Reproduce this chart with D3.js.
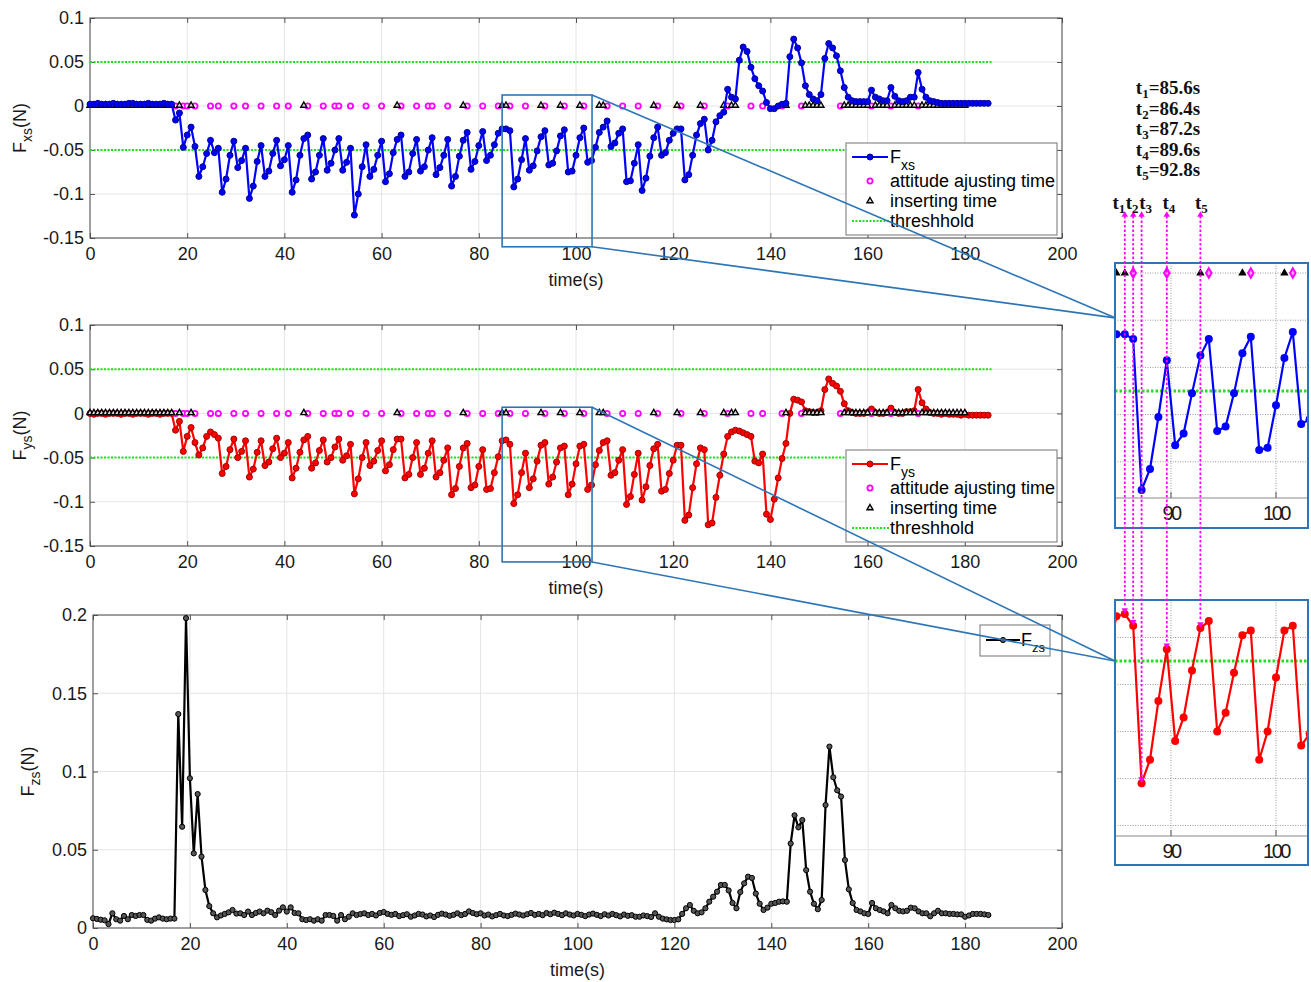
<!DOCTYPE html>
<html>
<head>
<meta charset="utf-8">
<script src="https://cdnjs.cloudflare.com/ajax/libs/d3/7.8.5/d3.min.js"></script>
<style>
  body { margin: 0; background: #fff; }
</style>
</head>
<body>
<svg id="fig" width="1311" height="982"></svg>
<script>
// all three channels are sampled every 0.8 s starting at t = 0
var t0 = 0, dt = 0.8;

// F_xs, in units of 1e-3 N
var fxs = [
  2,2,3,2,2,2,3,2,2,2,3,3,2,2,2,3,2,2,2,3,2,
  2,
  -16,-8,-47,-33,-24,-46,-80,-69,-54,-39,
  -53,-48,-98,-83,-56,-40,-70,-62,-48,-105,
  -91,-63,-45,-80,-74,-54,-39,-68,-61,-45,
  -98,-84,-56,-37,-33,-83,-75,-56,-37,-73,
  -65,-50,-37,-73,-64,-48,-124,-100,-69,-44,
  -80,-72,-56,-40,-86,-77,-53,-38,-33,-80,
  -75,-54,-38,-74,-69,-50,-36,-78,-70,-56,
  -38,-91,-80,-57,-39,-30,-72,-63,-45,-29,
  -62,-56,-44,-31,-26,-26,-28,-92,-83,-61,
  -37,-73,-68,-51,-35,-28,-67,-65,-51,-34,
  -27,-75,-74,-56,-36,-25,-64,-62,-47,-30,
  -24,-17,-46,-42,-31,-26,-86,-85,-65,-44,
  -96,-82,-57,-36,-24,-56,-53,-39,-31,-26,
  -26,-84,-78,-56,-33,-20,-15,-50,-39,-18,
  -11,-7,19,10,8,52,67,62,44,31,
  23,17,4,-3,-3,0,2,3,56,76,
  66,49,23,13,8,6,13,54,71,66,
  57,40,21,10,6,5,5,5,5,18,
  10,8,6,6,21,11,6,5,6,10,
  10,38,19,10,6,5,4,3,3,3,
  3,3,3,3,3,3,3,3,3,3
];

// F_ys, in units of 1e-3 N
var fys = [
  0,-1,0,0,-1,0,0,0,-1,0,0,-1,0,0,0,-1,0,0,-1,0,0,
  0,
  -19,-9,-43,-26,-16,-33,-47,-39,-26,-21,
  -24,-28,-68,-60,-41,-29,-50,-43,-31,-72,
  -63,-44,-31,-59,-55,-40,-28,-50,-45,-33,
  -73,-62,-44,-30,-26,-62,-56,-42,-30,-55,
  -50,-38,-29,-53,-48,-35,-91,-74,-50,-33,
  -59,-54,-42,-31,-65,-58,-41,-29,-29,-73,
  -69,-50,-33,-69,-62,-45,-31,-72,-67,-53,
  -39,-92,-85,-60,-39,-34,-84,-81,-60,-41,
  -86,-85,-67,-49,-31,-30,-35,-102,-92,-67,
  -45,-84,-74,-54,-36,-33,-80,-72,-55,-39,
  -37,-92,-80,-57,-37,-35,-86,-81,-58,-42,
  -33,-31,-70,-67,-53,-41,-103,-94,-69,-45,
  -98,-83,-59,-40,-35,-88,-86,-68,-53,-36,
  -36,-121,-115,-84,-57,-39,-41,-126,-124,-95,
  -70,-46,-26,-21,-19,-20,-22,-24,-26,-54,
  -56,-46,-114,-120,-97,-73,-51,-34,0,16,
  15,13,3,2,1,1,3,27,39,34,
  31,25,11,3,1,0,0,0,1,5,
  1,0,0,1,6,1,0,0,2,2,
  3,27,12,5,1,0,0,-1,0,-1,
  -1,-1,-2,-1,-2,-2,-2,-2,-2,-2
];

// F_zs, in units of 1e-3 N
var fzs = [
  6.2,5.8,5.3,4.9,2.5,9.4,5.6,4.7,7.7,5.6,8.3,7.7,8.3,8.3,5.2,4.7,6.0,6.8,6.0,5.6,6.0,
  6.0,
  136.7,64.7,198,95.7,47.7,85.6,45.6,24.3,14,9.4,
  6.8,8.0,9.0,10,11.5,9.2,9.4,8.3,10.5,8.3,
  9.6,10.5,9.4,11.1,10.1,8.3,11.1,13.2,10.5,13.2,
  9.6,9.4,5.6,5.1,5.6,4.7,5.6,4.7,8.3,8.3,
  7.7,4.7,8.3,5.6,7.2,9.4,8.3,8.9,9.4,8.3,
  9.0,8.0,9.6,10.2,9.0,8.4,9.0,7.6,8.2,8.8,
  7.2,8.0,9.0,8.6,7.4,8.0,7.0,8.4,9.2,8.6,
  7.8,8.4,9.4,8.2,9.0,10.6,9.6,8.8,9.4,8.0,
  8.6,7.4,8.2,9.0,8.0,7.6,8.4,9.2,8.6,8.0,
  8.8,9.6,8.4,9.0,8.2,9.6,8.8,9.8,9.0,8.2,
  9.4,8.6,8.0,9.0,8.4,7.6,8.6,9.2,8.4,7.6,
  8.8,8.0,9.0,8.2,7.4,8.6,7.8,8.2,7.2,7.2,
  8.0,7.6,7.0,9.4,7.2,6.0,5.5,5.1,5.1,5.5,
  9.0,12.6,14.7,11.0,9.4,10.0,12.6,16.8,20.0,23.2,
  27.5,27.5,24.0,16.0,12.6,23.0,28.5,32.8,32.0,22.0,
  15.5,11.5,13.0,15.5,16.0,16.8,17.0,16.8,54,72,
  64.3,69,37,23.2,15.5,12.0,17.9,78.6,115.9,96.3,
  88,84,43.4,24.7,16.0,11.5,10.6,9.4,9.0,16.0,
  12.6,11.5,10.6,9.4,14.7,12.6,11.0,10.6,11.0,13.0,
  12.6,10.6,9.4,9.4,7.5,9.4,11.0,9.4,9.4,9.0,
  9.0,8.7,8.7,7.2,8.0,9.0,9.0,9.0,8.7,8.3
];

var attitudeTimes = [17.6,19.2,20.0,21.6,24.8,26.4,29.6,32.0,35.2,38.4,40.8,44.8,48.0,50.4,51.2,
  53.6,56.8,60.0,64.0,67.2,69.6,70.4,73.6,77.6,80.8,84.0,86.4,89.6,93.6,97.6,101.6,106.4,109.6,
  112.8,116.8,121.6,126.4,131.2,136.0,138.4,142.4,146.4,154.4,160.8,164.8,170.4];

var insertTimes = [0,0.8,1.6,2.4,3.2,4.0,4.8,5.6,6.4,7.2,8.0,8.8,9.6,10.4,11.2,12.0,12.8,13.6,14.4,
  15.2,16.0,16.8,18.4,20.8,44.0,63.2,76.8,84.8,85.6,92.8,96.8,100.8,104.8,105.6,116.0,120.8,125.6,
  130.4,132.0,132.8,143.2,147.2,148.0,148.8,149.6,150.4,155.2,156.0,156.8,157.6,158.4,159.2,160.0,
  161.6,162.4,163.2,164.0,165.6,166.4,167.2,168.0,168.8,169.6,171.2,172.0,172.8,173.6,174.4,175.2,
  176.0,176.8,177.6,178.4,179.2,180.0];

var thresholds = [0.05, -0.05];
var thresholdSpan = [0, 185.5];

var xTicks = [0,20,40,60,80,100,120,140,160,180,200];
var yTicksXY = [-0.15,-0.1,-0.05,0,0.05,0.1];
var yTicksZ = [0,0.05,0.1,0.15,0.2];

var keyNames = ["1","2","3","4","5"];
var keyTimes = [85.6,86.4,87.2,89.6,92.8];
var insetTicks = [90,100];
var insetGridTop = [0,-0.02,-0.04,-0.06,-0.08];
var insetGridBot = [-0.04,-0.06,-0.08,-0.1,-0.12];
var zoomWindow = [84.8, 103.3];

var FONT = '"Liberation Sans", Arial, Helvetica, sans-serif';
var SERIF = '"Liberation Serif", "Times New Roman", serif';
var BOXBLUE = "#2e75b6";
var GREEN = "#1fe01f";
var MAGENTA = "#ff00ff";

var svg = d3.select("#fig");
svg.append("rect").attr("width", 1311).attr("height", 982).attr("fill", "#fff");

function series(vals) {
  return vals.map(function(v, i) { return { t: t0 + i * dt, v: v / 1000 }; });
}
function valueAt(vals, t) {
  return vals[Math.round((t - t0) / dt)] / 1000;
}
function fmt(d) { return d === 0 ? "0" : String(+d.toFixed(2)); }

var panels = [
  { sub: "xs", vals: fxs, color: "#0000ff", edge: "#000090", left: 90, right: 1062, top: 18, bottom: 238,
    ydom: [-0.15, 0.1], yticks: yTicksXY, events: true, eventsOnTop: false, legend: { x: 846, y: 143 },
    win: [0.0125, -0.16] },
  { sub: "ys", vals: fys, color: "#ff0000", edge: "#a00000", left: 90, right: 1062, top: 325, bottom: 546,
    ydom: [-0.15, 0.1], yticks: yTicksXY, events: true, eventsOnTop: true, legend: { x: 846, y: 450 },
    win: [0.007, -0.168] },
  { sub: "zs", vals: fzs, color: "#000000", edge: "#000000", left: 93, right: 1062, top: 615, bottom: 928,
    ydom: [0, 0.2], yticks: yTicksZ, events: false }
];

function triangle(sel) {
  sel.attr("d", d3.symbol(d3.symbolTriangle, 16))
    .attr("fill", "#ddd").attr("stroke", "#000").attr("stroke-width", 1.4);
}

function drawEvents(g, x, y) {
  g.append("g").selectAll("circle").data(attitudeTimes).enter().append("circle")
    .attr("cx", function(d) { return x(d); }).attr("cy", y(0)).attr("r", 2.6)
    .attr("fill", "#fff").attr("stroke", MAGENTA).attr("stroke-width", 1.8);
  g.append("g").selectAll("path").data(insertTimes).enter().append("path")
    .call(triangle)
    .attr("transform", function(d) { return "translate(" + x(d) + "," + (y(0) - 0.5) + ")"; });
}

function drawSeries(g, p, x, y, r) {
  var pts = series(p.vals);
  g.append("path").datum(pts)
    .attr("d", d3.line().x(function(d) { return x(d.t); }).y(function(d) { return y(d.v); }))
    .attr("fill", "none").attr("stroke", p.color).attr("stroke-width", 2.2).attr("stroke-linejoin", "round");
  g.append("g").selectAll("circle").data(pts).enter().append("circle")
    .attr("cx", function(d) { return x(d.t); }).attr("cy", function(d) { return y(d.v); })
    .attr("r", r)
    .attr("fill", p.sub === "zs" ? "#555" : p.color)
    .attr("stroke", p.edge).attr("stroke-width", 1);
}

function subText(sel, main, sub, tail, subSize, shift) {
  sel.append("tspan").text(main);
  sel.append("tspan").attr("dy", shift).attr("font-size", subSize).text(sub);
  if (tail) sel.append("tspan").attr("dy", -shift).text(tail);
}

function drawLegend(p) {
  var L = p.legend;
  var g = svg.append("g").attr("font-family", FONT).attr("font-size", 18);
  g.append("rect").attr("x", L.x).attr("y", L.y).attr("width", 211).attr("height", 92)
    .attr("fill", "#fff").attr("stroke", "#8a8a8a").attr("stroke-width", 1.2);
  var sx0 = L.x + 6, sx1 = L.x + 42, sm = L.x + 24, tx = L.x + 44;
  var rows = [L.y + 14, L.y + 38, L.y + 58, L.y + 78];
  g.append("line").attr("x1", sx0).attr("x2", sx1).attr("y1", rows[0]).attr("y2", rows[0])
    .attr("stroke", p.color).attr("stroke-width", 2.2);
  g.append("circle").attr("cx", sm).attr("cy", rows[0]).attr("r", 3).attr("fill", p.color).attr("stroke", p.edge);
  subText(g.append("text").attr("x", tx).attr("y", rows[0] + 6), "F", p.sub, null, 14, 7);
  g.append("circle").attr("cx", sm).attr("cy", rows[1]).attr("r", 2.6)
    .attr("fill", "#fff").attr("stroke", MAGENTA).attr("stroke-width", 1.8);
  g.append("text").attr("x", tx).attr("y", rows[1] + 6).text("attitude ajusting time");
  g.append("path").call(triangle).attr("transform", "translate(" + sm + "," + rows[2] + ")");
  g.append("text").attr("x", tx).attr("y", rows[2] + 6).text("inserting time");
  g.append("line").attr("x1", sx0).attr("x2", sx1 + 2).attr("y1", rows[3]).attr("y2", rows[3])
    .attr("stroke", GREEN).attr("stroke-width", 2).attr("stroke-dasharray", "2,1.5");
  g.append("text").attr("x", tx).attr("y", rows[3] + 6).text("threshhold");
}

panels.forEach(function(p) {
  var x = d3.scaleLinear().domain([0, 200]).range([p.left, p.right]);
  var y = d3.scaleLinear().domain(p.ydom).range([p.bottom, p.top]);
  p.x = x; p.y = y;
  var g = svg.append("g");

  // grid
  g.append("g").selectAll("line").data(xTicks).enter().append("line")
    .attr("x1", x).attr("x2", x).attr("y1", p.top).attr("y2", p.bottom)
    .attr("stroke", "#e4e4e4").attr("stroke-width", 1);
  g.append("g").selectAll("line").data(p.yticks).enter().append("line")
    .attr("y1", y).attr("y2", y).attr("x1", p.left).attr("x2", p.right)
    .attr("stroke", "#e4e4e4").attr("stroke-width", 1);

  // axes, ticks pointing inward on all four sides
  var axes = [
    [d3.axisBottom(x).tickValues(xTicks).tickFormat(d3.format("d")).tickPadding(9), "translate(0," + p.bottom + ")"],
    [d3.axisTop(x).tickValues(xTicks).tickFormat(""), "translate(0," + p.top + ")"],
    [d3.axisLeft(y).tickValues(p.yticks).tickFormat(fmt).tickPadding(6), "translate(" + p.left + ",0)"],
    [d3.axisRight(y).tickValues(p.yticks).tickFormat(""), "translate(" + p.right + ",0)"]
  ];
  axes.forEach(function(a) {
    var ax = g.append("g").attr("transform", a[1]).call(a[0].tickSize(-5));
    ax.attr("font-family", FONT).attr("font-size", 18);
    ax.select(".domain").remove();
    ax.selectAll(".tick line").attr("stroke", "#555");
    ax.selectAll(".tick text").attr("fill", "#1a1a1a");
  });
  g.append("rect").attr("x", p.left).attr("y", p.top).attr("width", p.right - p.left).attr("height", p.bottom - p.top)
    .attr("fill", "none").attr("stroke", "#4d4d4d").attr("stroke-width", 1);

  // threshold lines
  if (p.events) {
    g.append("g").selectAll("line").data(thresholds).enter().append("line")
      .attr("x1", x(thresholdSpan[0])).attr("x2", x(thresholdSpan[1]))
      .attr("y1", y).attr("y2", y)
      .attr("stroke", GREEN).attr("stroke-width", 2).attr("stroke-dasharray", "2,1.5");
  }
  if (p.events && !p.eventsOnTop) drawEvents(g, x, y);
  drawSeries(g, p, x, y, p.sub === "zs" ? 2.6 : 3);
  if (p.events && p.eventsOnTop) drawEvents(g, x, y);

  // labels
  svg.append("text").attr("x", (p.left + p.right) / 2).attr("y", p.bottom + 48)
    .attr("text-anchor", "middle").attr("font-family", FONT).attr("font-size", 18).attr("fill", "#1a1a1a")
    .text("time(s)");
  var yl = svg.append("text").attr("font-family", FONT).attr("font-size", 18).attr("fill", "#1a1a1a")
    .attr("text-anchor", "middle")
    .attr("transform", "translate(" + (p.sub === "zs" ? 34 : 26) + "," + ((p.top + p.bottom) / 2) + ") rotate(-90)");
  subText(yl, "F", p.sub, "(N)", 14, 6);

  if (p.legend) drawLegend(p);
});

// F_zs legend
(function() {
  var p = panels[2];
  var g = svg.append("g").attr("font-family", FONT).attr("font-size", 18);
  g.append("rect").attr("x", 980).attr("y", 625).attr("width", 70).attr("height", 31)
    .attr("fill", "#fff").attr("stroke", "#8a8a8a").attr("stroke-width", 1.2);
  g.append("line").attr("x1", 986).attr("x2", 1020).attr("y1", 640).attr("y2", 640)
    .attr("stroke", "#000").attr("stroke-width", 2.2);
  g.append("circle").attr("cx", 1003).attr("cy", 640).attr("r", 2.6).attr("fill", "#555").attr("stroke", "#000");
  subText(g.append("text").attr("x", 1021).attr("y", 646), "F", p.sub, null, 13, 6);
})();

// zoom insets
var insets = [
  { vals: fxs, color: "#0000ff", box: { x: 1115, y: 263, w: 193, h: 265 }, vdom: [0, -0.08], ydom: [273, 461.8],
    axisY: 498, grid: insetGridTop, events: true, id: "clipA", link: -0.019 },
  { vals: fys, color: "#ff0000", box: { x: 1115, y: 600, w: 193, h: 265 }, vdom: [-0.05, -0.1], ydom: [661, 778.5],
    axisY: 836, grid: insetGridBot, events: false, id: "clipB", link: -0.05 }
];
var xi = d3.scaleLinear().domain([90, 100]).range([1171, 1276]);

insets.forEach(function(o) {
  var yi = d3.scaleLinear().domain(o.vdom).range(o.ydom);
  o.y = yi;
  var b = o.box;
  svg.append("clipPath").attr("id", o.id).append("rect")
    .attr("x", b.x).attr("y", b.y).attr("width", b.w).attr("height", b.h);
  var g = svg.append("g").attr("clip-path", "url(#" + o.id + ")");
  g.append("rect").attr("x", b.x).attr("y", b.y).attr("width", b.w).attr("height", b.h).attr("fill", "#fff");
  g.append("g").selectAll("line").data(o.grid).enter().append("line")
    .attr("x1", b.x).attr("x2", b.x + b.w).attr("y1", yi).attr("y2", yi)
    .attr("stroke", "#9a9a9a").attr("stroke-width", 1).attr("stroke-dasharray", "1,1.5");
  g.append("g").selectAll("line").data(insetTicks).enter().append("line")
    .attr("x1", xi).attr("x2", xi).attr("y1", b.y).attr("y2", o.axisY)
    .attr("stroke", "#9a9a9a").attr("stroke-width", 1).attr("stroke-dasharray", "1,1.5");
  g.append("line").attr("x1", b.x).attr("x2", b.x + b.w).attr("y1", o.axisY).attr("y2", o.axisY)
    .attr("stroke", "#8a8a8a").attr("stroke-width", 1.2);
  g.append("g").selectAll("line").data(insetTicks).enter().append("line")
    .attr("x1", xi).attr("x2", xi).attr("y1", o.axisY - 6).attr("y2", o.axisY)
    .attr("stroke", "#555");
  g.append("line").attr("x1", b.x).attr("x2", b.x + b.w).attr("y1", yi(-0.05)).attr("y2", yi(-0.05))
    .attr("stroke", GREEN).attr("stroke-width", 3).attr("stroke-dasharray", "2.5,2");

  var pts = series(o.vals).filter(function(d) { return d.t > 82 && d.t < 106; });
  g.append("path").datum(pts)
    .attr("d", d3.line().x(function(d) { return xi(d.t); }).y(function(d) { return yi(d.v); }))
    .attr("fill", "none").attr("stroke", o.color).attr("stroke-width", 2.2);
  g.append("g").selectAll("circle").data(pts).enter().append("circle")
    .attr("cx", function(d) { return xi(d.t); }).attr("cy", function(d) { return yi(d.v); })
    .attr("r", 4).attr("fill", o.color);

  if (o.events) {
    g.append("g").selectAll("path").data(attitudeTimes).enter().append("path")
      .attr("d", d3.symbol(d3.symbolDiamond, 26))
      .attr("transform", function(d) { return "translate(" + xi(d) + "," + yi(0) + ")"; })
      .attr("fill", "#f7a6f7").attr("stroke", MAGENTA).attr("stroke-width", 2);
    g.append("g").selectAll("path").data(insertTimes).enter().append("path")
      .attr("d", d3.symbol(d3.symbolTriangle, 30))
      .attr("transform", function(d) { return "translate(" + xi(d) + "," + yi(0) + ")"; })
      .attr("fill", "#000");
  }
  g.append("g").selectAll("text").data(insetTicks).enter().append("text")
    .attr("x", xi).attr("y", o.axisY + 22).attr("text-anchor", "middle")
    .attr("font-family", FONT).attr("font-size", 20).attr("letter-spacing", -2.5).attr("fill", "#1a1a1a")
    .text(function(d) { return d; });
  svg.append("rect").attr("x", b.x).attr("y", b.y).attr("width", b.w).attr("height", b.h)
    .attr("fill", "none").attr("stroke", BOXBLUE).attr("stroke-width", 2);
});

// key time markers joining both insets
var labelDx = [-6, -1, 4, 2, 1];
var keyTop = 212;
keyTimes.forEach(function(t, k) {
  var x = xi(t);
  var yEnd = insets[1].y(valueAt(fys, t)) - 4;
  svg.append("line").attr("x1", x).attr("x2", x).attr("y1", keyTop + 4).attr("y2", yEnd - 3)
    .attr("stroke", MAGENTA).attr("stroke-width", 1.8).attr("stroke-dasharray", "2.5,2");
  svg.append("path").attr("d", d3.symbol(d3.symbolTriangle, 18))
    .attr("transform", "translate(" + x + "," + (keyTop + 3) + ")").attr("fill", MAGENTA);
  svg.append("path").attr("d", d3.symbol(d3.symbolTriangle, 18))
    .attr("transform", "translate(" + x + "," + yEnd + ") rotate(180)").attr("fill", MAGENTA);
  var lab = svg.append("text").attr("x", x + labelDx[k]).attr("y", keyTop - 3).attr("text-anchor", "middle")
    .attr("font-family", SERIF).attr("font-weight", "bold").attr("font-size", 19).attr("fill", "#111");
  subText(lab, "t", keyNames[k], null, 13, 4);
  var row = svg.append("text").attr("x", 1168).attr("y", 94 + k * 20.5).attr("text-anchor", "middle")
    .attr("font-family", SERIF).attr("font-weight", "bold").attr("font-size", 19).attr("fill", "#111");
  subText(row, "t", keyNames[k], "=" + t.toFixed(1) + "s", 13, 4);
});

// zoom windows and connectors
panels.slice(0, 2).forEach(function(p, k) {
  var x0 = p.x(zoomWindow[0]), x1 = p.x(zoomWindow[1]);
  var yA = p.y(p.win[0]), yB = p.y(p.win[1]);
  svg.append("rect").attr("x", x0).attr("y", yA).attr("width", x1 - x0).attr("height", yB - yA)
    .attr("fill", "none").attr("stroke", BOXBLUE).attr("stroke-width", 1.6);
  var o = insets[k];
  var ty = o.y(o.link);
  [yA, yB].forEach(function(yy) {
    svg.append("line").attr("x1", x1).attr("y1", yy).attr("x2", o.box.x).attr("y2", ty)
      .attr("stroke", BOXBLUE).attr("stroke-width", 1.6);
  });
});
</script>
</body>
</html>
